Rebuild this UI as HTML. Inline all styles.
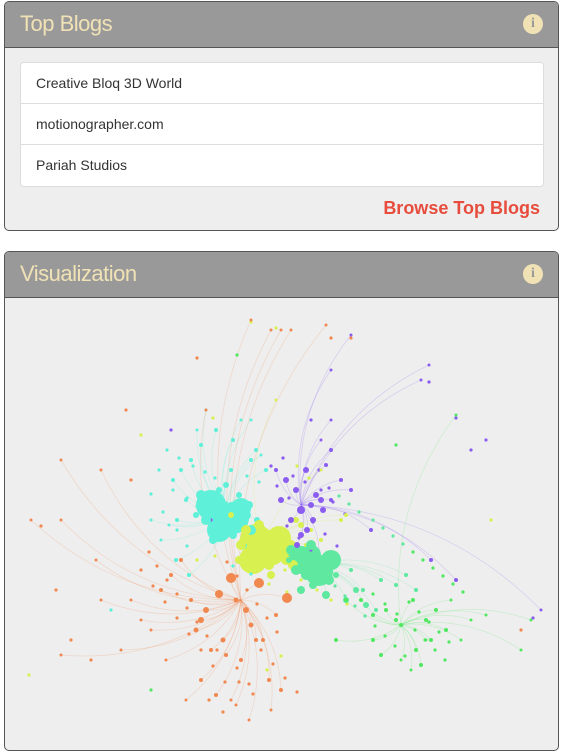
<!DOCTYPE html>
<html><head><meta charset="utf-8">
<style>
body{margin:0;width:563px;height:733px;overflow:hidden;background:#fff;font-family:"Liberation Sans",sans-serif;}
.panel{position:absolute;left:4px;width:555px;border:1px solid #555;border-radius:5px;background:#eee;overflow:hidden;box-sizing:border-box;}
.hdr{height:45px;background:#999;border-bottom:1px solid #555;position:relative;}
.hdr .t{position:absolute;left:15px;top:9px;font-size:22px;color:#f1e2b6;letter-spacing:-0.5px;}
.info{position:absolute;right:15px;top:12px;width:20px;height:20px;border-radius:50%;background:#f1e2b6;color:#999;font:bold 14px "Liberation Serif",serif;text-align:center;line-height:20px;}
.list{position:absolute;left:15px;top:60px;width:524px;background:#fff;border:1px solid #ddd;border-radius:4px;box-sizing:border-box;}
.row{height:41px;line-height:40px;padding-left:15px;font-size:14px;color:#333;border-bottom:1px solid #ddd;box-sizing:border-box;}
.row:last-child{border-bottom:none;}
.browse{position:absolute;right:18px;top:196px;font-size:18px;font-weight:bold;color:#e74c3c;}
</style></head><body>
<div class="panel" style="top:1px;height:230px;">
 <div class="hdr"><span class="t">Top Blogs</span><span class="info">i</span></div>
 <div class="list">
  <div class="row">Creative Bloq 3D World</div>
  <div class="row">motionographer.com</div>
  <div class="row">Pariah Studios</div>
 </div>
 <div class="browse">Browse Top Blogs</div>
</div>
<div class="panel" style="top:251px;height:500px;">
 <div class="hdr"><span class="t">Visualization</span><span class="info">i</span></div>
 <svg id="g" width="555" height="455" style="position:absolute;left:0;top:45px"></svg>
</div>
<script>
const groups=["cyan","yellow","purple","mint","orange","green"];
const groupColors=["#5ef0d8","#d8f050","#8a5cf0","#5ee8a0","#f08850","#50e860"];
const hubX=[225,262,300,312,240,400];
const hubY=[515,548,505,565,600,625];
// main nodes
const nodeX=[200,210,222,235,245,205,215,228,240,250,212,232,248,195,218,238,225,208,242,256,180,172,190,200,185,176,215,232,255,265,160,150,168,205,240,260,175,188,230,250,
 245,258,270,280,290,250,262,275,285,240,255,268,282,292,248,262,276,288,238,270,300,230,295,305,310,320,340,345,
 285,295,305,315,300,310,320,290,280,300,312,322,296,306,318,330,275,340,350,325,330,370,430,455,320,330,
 290,300,310,320,330,295,305,318,328,300,312,325,335,288,345,355,365,375,350,362,380,395,405,415,
 230,258,286,218,245,205,200,195,222,235,250,262,275,180,170,160,190,210,225,240,255,268,280,200,215,235,150,165,140,185,230,248,270,130,120,100,95,60,60,205,250,270,290,
 360,372,385,400,412,425,435,430,445,415,395,380,372,420,450,460,470,485,530,520,400,410,425,335,345,
 275,330,350,325,428,250,320,455,196,100,60,30,420,540,280];
const nodeY=[495,500,505,510,515,520,525,530,520,530,540,535,505,515,490,495,485,505,545,520,470,480,460,445,500,520,430,440,450,470,540,520,525,410,420,455,560,575,470,460,
 530,525,535,540,545,550,555,550,560,545,560,565,555,565,540,540,545,550,560,575,525,515,520,545,530,540,520,515,
 480,490,470,495,510,505,500,520,500,535,520,510,545,530,560,500,470,480,490,465,450,530,560,580,440,420,
 550,555,545,560,565,570,575,565,580,590,585,595,575,560,600,590,605,610,570,590,580,585,575,590,
 578,583,598,594,610,610,620,630,640,600,625,640,615,560,575,590,600,650,655,660,640,680,690,680,695,705,630,660,620,700,700,720,710,600,650,600,560,520,655,410,320,330,330,
 600,615,610,625,600,620,610,640,630,650,620,655,640,665,600,640,620,615,620,650,660,670,640,640,600,
 400,370,335,325,365,420,470,415,430,470,460,520,380,610,330];
const nodeR=[5,5,5,5,5,5,5,5,5,5,4,4,4,3,3,3,3,4,4,3,2,2,2,2,2,2,2,2,2,2,1.5,1.5,1.5,1.5,1.5,1.5,2,2,2,2,
 5,5,5,5,5,5,5,5,5,5,5,5,5,5,5,5,5,5,4,4,3,3,3,2,2,2,2,2,
 3,3,3,3,4,3,3,3,3,3,3,3,3,3,3,2,2,2,2,2,2,2,2,2,1.5,1.5,
 5,5,5,5,5,5,5,5,5,4,4,4,3,3,3,3,3,2,2,2,2,2,2,2,
 5,5,5,4,3,3,3,2.5,2.5,2.5,2.5,2,2,2,2,2,2,2,2,2,2,2,2,2,2,1.5,1.5,1.5,1.5,1.5,1.5,1.5,1.5,1.5,1.5,1.5,1.5,1.5,1.5,1.5,1.5,1.5,1.5,
 2,2,2,2,2,2,2,2,2,2,2,2,2,2,1.5,1.5,1.5,1.5,1.5,1.5,1.5,1.5,1.5,2,2,
 1.5,1.5,1.5,1.5,1.5,1.5,1.5,1.5,1.5,1.5,1.5,1.5,1.5,1.5,1.5];
const nodeG=[0,0,0,0,0,0,0,0,0,0,0,0,0,0,0,0,0,0,0,0,0,0,0,0,0,0,0,0,0,0,0,0,0,0,0,0,0,0,0,0,
 1,1,1,1,1,1,1,1,1,1,1,1,1,1,1,1,1,1,1,1,1,1,1,1,1,1,1,1,
 2,2,2,2,2,2,2,2,2,2,2,2,2,2,2,2,2,2,2,2,2,2,2,2,2,2,
 3,3,3,3,3,3,3,3,3,3,3,3,3,3,3,3,3,3,3,3,3,3,3,3,
 4,4,4,4,4,4,4,4,4,4,4,4,4,4,4,4,4,4,4,4,4,4,4,4,4,4,4,4,4,4,4,4,4,4,4,4,4,4,4,4,4,4,4,
 5,5,5,5,5,5,5,5,5,5,5,5,5,5,5,5,5,5,5,5,5,5,5,5,5,
 1,2,2,4,2,0,1,5,0,4,4,4,2,2,4];
// extra scattered small nodes (no visible edges)
const dotX=[166,178,192,204,214,226,246,258,172,186,196,158,150,162,176,186,270,282,292,304,318,328,338,348,358,372,382,392,402,412,422,432,442,452,462,372,384,396,408,418,428,438,448,334,344,354,364,374,384,394,404,414,424,434,444,
 148,156,166,176,186,196,206,216,226,236,246,256,266,276,140,152,164,176,188,200,212,224,236,248,260,272,284,296,208,222,238,252,266,280,
 296,308,320,332,344,286,298,310,322,276,288,300,312,324,336,
 210,226,240,256,270,284,300,316,330,346,196,214,232,250,268,286,
 250,275,196,330,350,428,455,485,532,395,470,310,236,212,140,110,90,70,40,28,55,130,125,520,490,150,170];
const dotY=[450,458,466,472,478,484,476,482,490,498,506,470,494,512,530,546,466,458,476,482,470,488,496,504,512,520,528,536,544,552,560,568,576,584,592,594,604,614,602,612,622,632,642,586,596,606,616,626,636,646,656,630,640,650,660,
 552,566,580,594,608,622,636,650,562,576,590,604,618,632,570,586,602,618,634,650,666,682,668,684,650,664,678,692,700,712,682,694,670,656,
 466,478,490,502,514,526,538,550,562,486,498,510,522,534,546,
 520,530,540,550,560,570,580,590,600,604,560,556,566,574,584,592,
 322,328,358,338,338,382,418,440,618,445,450,420,355,418,435,610,660,640,526,675,590,480,410,630,520,690,430];
const dotG=[0,0,0,0,0,0,0,0,0,0,0,0,0,0,0,0,2,2,2,2,2,2,3,3,3,3,3,3,3,5,5,5,5,5,5,5,5,5,5,5,5,5,5,3,3,3,3,5,5,5,5,5,5,5,5,
 4,4,4,4,4,4,4,4,4,4,4,4,4,4,4,4,4,4,4,4,4,4,4,4,4,4,4,4,4,4,4,4,1,1,1,1,
 2,2,2,2,2,2,2,2,2,2,2,2,2,2,2,
 1,1,1,1,1,1,1,1,1,1,0,0,1,1,1,1,
 4,4,4,2,2,2,2,5,2,2,5,1,1,0,4,4,4,1,4,4,4,4,1,5,2,1,0];
// dense core blobs
const coreX=[210,232,218,240,255,268,252,278,300,318,330,310];
const coreY=[505,518,530,508,540,548,560,538,560,572,560,555];
const coreR=[15,16,12,10,16,18,14,12,14,14,10,10];
const coreG=[0,0,0,0,1,1,1,1,3,3,3,3];

const svg=document.getElementById('g');const NS="http://www.w3.org/2000/svg";
const OX=4,OY=297;
const sx=x=>x-OX, sy=y=>y-OY;
for(let i=0;i<nodeX.length;i++){
  const g=nodeG[i];const hx=sx(hubX[g]),hy=sy(hubY[g]),x=sx(nodeX[i]),y=sy(nodeY[i]);
  const p=document.createElementNS(NS,'path');
  
  
  const mx=(hx+x)/2+(y-hy)*0.2,my=(hy+y)/2-(x-hx)*0.2;
  p.setAttribute('d',`M${hx},${hy}Q${mx},${my} ${x},${y}`);
  p.setAttribute('fill','none');p.setAttribute('stroke',groupColors[g]);p.setAttribute('stroke-opacity','0.22');p.setAttribute('stroke-width','0.8');
  svg.appendChild(p);
}
for(let i=0;i<coreX.length;i++){
  const e=document.createElementNS(NS,'circle');
  
  
  e.setAttribute('cx',sx(coreX[i]));e.setAttribute('cy',sy(coreY[i]));e.setAttribute('r',coreR[i]);
  e.setAttribute('fill',groupColors[coreG[i]]);
  svg.appendChild(e);
}
for(let i=0;i<dotX.length;i++){
  const c=document.createElementNS(NS,'circle');
  
  
  c.setAttribute('cx',sx(dotX[i]));c.setAttribute('cy',sy(dotY[i]));c.setAttribute('r',1.6);
  c.setAttribute('fill',groupColors[dotG[i]]);
  svg.appendChild(c);
}
for(let i=0;i<nodeX.length;i++){
  const c=document.createElementNS(NS,'circle');
  
  
  c.setAttribute('cx',sx(nodeX[i]));c.setAttribute('cy',sy(nodeY[i]));c.setAttribute('r',nodeR[i]);
  c.setAttribute('fill',groupColors[nodeG[i]]);
  svg.appendChild(c);
}
</script>
</body></html>
